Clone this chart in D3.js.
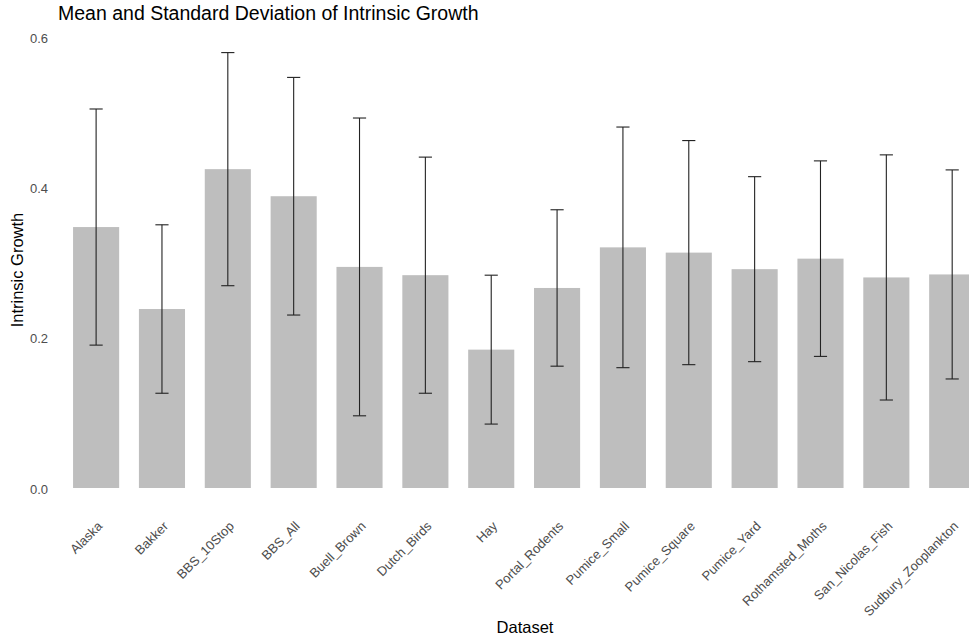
<!DOCTYPE html>
<html>
<head>
<meta charset="utf-8">
<script src="https://cdn.jsdelivr.net/npm/d3@7"></script>
<style>
  html, body { margin: 0; padding: 0; background: #ffffff; }
  svg { display: block; font-family: "Liberation Sans", Arial, sans-serif; }
</style>
</head>
<body>
<svg id="chart" width="969" height="639"></svg>
<script>
const categories = ["Alaska", "Bakker", "BBS_10Stop", "BBS_All", "Buell_Brown", "Dutch_Birds", "Hay",
  "Portal_Rodents", "Pumice_Small", "Pumice_Square", "Pumice_Yard", "Rothamsted_Moths",
  "San_Nicolas_Fish", "Sudbury_Zooplankton"];
const meanValues = [0.347, 0.238, 0.424, 0.388, 0.294, 0.283, 0.184, 0.266, 0.320, 0.313, 0.291, 0.305, 0.280, 0.284];
const sdValues   = [0.157, 0.112, 0.155, 0.158, 0.198, 0.157, 0.099, 0.104, 0.160, 0.149, 0.123, 0.130, 0.163, 0.139];
const yTicks = [0.0, 0.2, 0.4, 0.6];

const svg = d3.select("#chart");

const x = d3.scaleBand()
  .domain(categories)
  .range([56.6, 991.7])
  .paddingInner(0.3)
  .paddingOuter(0.25);

const y = d3.scaleLinear().domain([0, 0.6]).range([488, 36.8]);

const data = categories.map((c, i) => ({ c, m: meanValues[i], sd: sdValues[i] }));

// bars
svg.append("g").selectAll("rect").data(data).join("rect")
  .attr("x", d => x(d.c))
  .attr("width", x.bandwidth())
  .attr("y", d => y(d.m))
  .attr("height", d => y(0) - y(d.m))
  .attr("fill", "#bebebe");

// error bars
const capHalf = x.step() * 0.1;
const eg = svg.append("g").attr("stroke", "#222").attr("stroke-width", 1.1).attr("fill", "none");
data.forEach(d => {
  const cx = x(d.c) + x.bandwidth() / 2;
  const yt = y(d.m + d.sd), yb = y(d.m - d.sd);
  eg.append("line").attr("x1", cx).attr("x2", cx).attr("y1", yt).attr("y2", yb);
  eg.append("line").attr("x1", cx - capHalf).attr("x2", cx + capHalf).attr("y1", yt).attr("y2", yt);
  eg.append("line").attr("x1", cx - capHalf).attr("x2", cx + capHalf).attr("y1", yb).attr("y2", yb);
});

// y axis
const yAxis = d3.axisLeft(y).tickValues(yTicks).tickFormat(d3.format(".1f")).tickSize(0).tickPadding(0);
const yg = svg.append("g").attr("transform", "translate(48,0)").call(yAxis);
yg.select(".domain").remove();
yg.selectAll("text").attr("fill", "#4d4d4d").attr("font-size", 13).attr("font-family", "Liberation Sans, Arial, sans-serif").attr("dy", "0.4em");

// x axis labels
const xAxis = d3.axisBottom(x).tickSize(0).tickPadding(0);
const xg = svg.append("g").attr("transform", "translate(0,0)").call(xAxis);
xg.select(".domain").remove();
xg.selectAll(".tick").attr("transform", d => `translate(${x(d) + x.bandwidth() / 2},0)`);
xg.selectAll("text")
  .attr("fill", "#4d4d4d")
  .attr("font-size", 13)
  .attr("font-family", "Liberation Sans, Arial, sans-serif")
  .attr("text-anchor", "end")
  .attr("y", null).attr("dy", null)
  .attr("transform", "translate(7,527) rotate(-45)");

// titles
svg.append("text").attr("x", 58).attr("y", 20).attr("font-size", 19.5).attr("fill", "#000")
  .text("Mean and Standard Deviation of Intrinsic Growth");
svg.append("text").attr("x", 525).attr("y", 633).attr("text-anchor", "middle").attr("font-size", 16.5).attr("fill", "#000")
  .text("Dataset");
svg.append("text").attr("transform", "translate(23,270) rotate(-90)").attr("text-anchor", "middle")
  .attr("font-size", 16.5).attr("fill", "#000").text("Intrinsic Growth");
</script>
</body>
</html>
